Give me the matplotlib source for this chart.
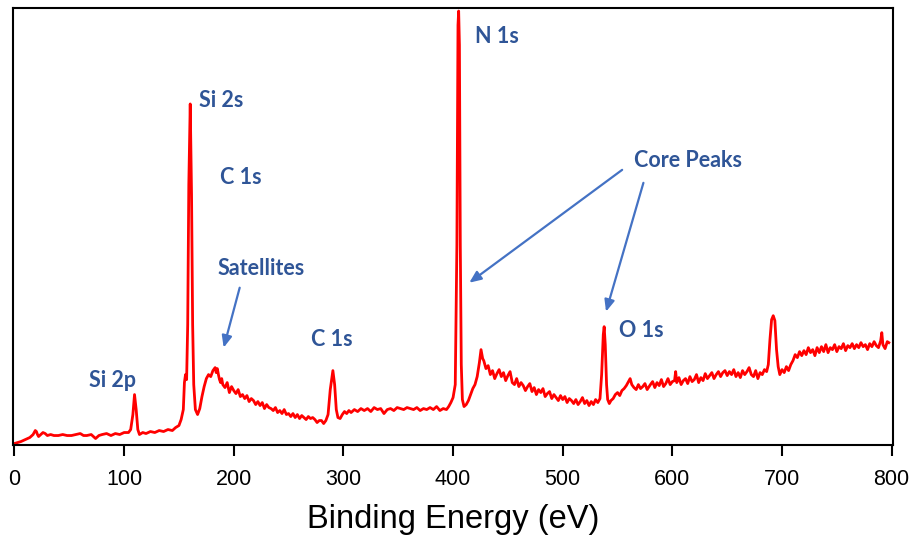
import matplotlib.pyplot as plt

# XPS survey spectrum (arbitrary intensity units)
energy_ev = [
    0, 3, 6, 10, 14, 17, 19, 20, 21, 22, 24, 26, 28, 30, 33, 36, 40, 44, 48, 52,
    56, 60, 63, 66, 70, 74, 77, 80, 84, 88, 92, 96, 100, 104, 106, 108, 109.5, 111, 112.5, 114,
    117, 120, 124, 128, 132, 136, 140, 144, 147, 150, 152, 154, 155, 156, 157, 158, 159, 160.3, 161.5, 162.5,
    163.5, 165, 167, 169, 171, 173, 175, 177, 179, 181, 183, 184, 185, 186, 187, 188, 189, 190, 192, 194,
    195, 196, 198, 200, 202, 204, 206, 208, 210, 212, 214, 216, 218, 220, 222, 224, 226, 228, 230, 232,
    234, 236, 238, 240, 242, 244, 246, 248, 250, 252, 254, 256, 258, 260, 262, 264, 266, 268, 270, 272,
    274, 276, 278, 280, 282, 284, 286, 288, 290.4, 292, 293.5, 295, 297, 299, 301, 303, 305, 307, 310, 313,
    316, 319, 322, 325, 328, 331, 334, 337, 340, 343, 346, 349, 352, 355, 358, 361, 364, 367, 370, 373,
    376, 379, 382, 385, 388, 391, 394, 396, 398, 400, 402, 403.5, 404.5, 405.1, 405.8, 406.6, 407.5, 408.5, 410, 412,
    414, 416, 418, 420, 422, 424, 425.5, 427, 428, 430, 432, 434, 436, 438, 440, 442, 444, 446, 448, 450,
    452, 454, 456, 458, 460, 462, 464, 466, 468, 470, 472, 474, 476, 478, 480, 482, 484, 486, 488, 490,
    492, 494, 496, 498, 500, 502, 504, 506, 508, 510, 512, 514, 516, 518, 520, 522, 524, 526, 528, 530,
    532, 534, 535.5, 537, 537.8, 538.8, 540, 541, 542.5, 544, 546, 548, 550, 552, 554, 556, 558, 560, 561.5, 563,
    565, 567, 569, 571, 573, 575, 577, 580, 582, 584, 586, 588, 590, 592, 594, 596, 598, 600, 602, 603,
    604, 606, 608, 610, 612, 614, 616, 618, 620, 622, 624, 626, 628, 630, 632, 634, 636, 638, 640, 642,
    644, 646, 648, 650, 652, 654, 656, 658, 660, 662, 664, 666, 668, 670, 672, 674, 676, 678, 680, 682,
    684, 686, 687.5, 689, 690.5, 692, 693.5, 695, 696.5, 698, 700, 702, 704, 706, 708, 710, 712, 714, 716, 718,
    720, 722, 724, 726, 728, 730, 732, 734, 736, 738, 740, 742, 744, 746, 748, 750, 752, 754, 756, 758,
    760, 762, 764, 766, 768, 770, 772, 774, 776, 778, 780, 782, 784, 786, 788, 790, 791, 792, 794, 796,
    797.4,
]
intensity = [
    1, 2, 3, 5, 7, 10, 14, 13, 10, 8, 10, 12, 11, 9, 10, 9, 9, 10, 9, 9,
    10, 11, 9, 9, 10, 6, 9, 10, 11, 9, 11, 10, 12, 12, 15, 30, 50, 35, 15, 10,
    12, 11, 13, 12, 14, 13, 15, 14, 17, 19, 25, 35, 62, 70, 65, 120, 260, 341, 250, 120,
    60, 35, 30, 36, 48, 58, 66, 70, 68, 74, 77, 72, 76, 70, 65, 62, 66, 60, 57, 62,
    57, 52, 58, 54, 51, 55, 48, 50, 46, 49, 43, 46, 44, 40, 43, 39, 42, 36, 40, 37,
    36, 34, 37, 32, 34, 31, 35, 30, 31, 28, 31, 27, 30, 26, 29, 27, 25, 28, 26, 27,
    25, 22, 24, 24, 21, 24, 30, 55, 74, 60, 35, 27, 26, 30, 33, 31, 34, 32, 35, 33,
    36, 34, 36, 33, 37, 35, 36, 31, 35, 36, 34, 37, 36, 35, 37, 36, 35, 37, 34, 36,
    35, 37, 35, 38, 34, 36, 35, 38, 42, 47, 60, 200, 420, 434, 400, 200, 80, 45, 38, 40,
    44, 50, 56, 60, 68, 82, 95, 86, 84, 76, 79, 70, 74, 66, 71, 75, 68, 72, 64, 69,
    73, 62, 60, 66, 58, 62, 59, 54, 58, 61, 53, 57, 50, 55, 52, 56, 48, 51, 53, 46,
    50, 47, 44, 49, 45, 48, 42, 46, 44, 41, 45, 40, 43, 47, 41, 44, 39, 43, 40, 45,
    42, 46, 70, 110, 118, 100, 60, 45, 41, 44, 46, 50, 52, 49, 54, 56, 59, 63, 66, 60,
    57, 55, 60, 56, 58, 61, 55, 60, 63, 57, 62, 59, 65, 58, 61, 66, 60, 63, 64, 73,
    62, 67, 60, 64, 66, 61, 68, 63, 65, 70, 62, 67, 64, 71, 66, 69, 72, 66, 70, 73,
    68, 72, 74, 69, 73, 70, 75, 68, 72, 67, 74, 70, 73, 77, 70, 68, 74, 66, 72, 70,
    75, 73, 80, 105, 125, 129, 124, 95, 78, 70, 75, 72, 78, 74, 80, 84, 90, 87, 93, 89,
    94, 90, 97, 92, 95, 89, 97, 92, 98, 93, 100, 92, 97, 95, 100, 93, 98, 96, 101, 94,
    99, 97, 101, 96, 100, 97, 102, 98, 100, 95, 101, 98, 103, 99, 97, 104, 112, 100, 96, 103,
    102,
]

x_ticks = [0, 100, 200, 300, 400, 500, 600, 700, 800]

# peak labels: (text, left edge in eV, baseline in intensity units)
labels = [
    ("Si 2s", 168.0, 338),
    ("C 1s", 187.2, 261),
    ("N 1s", 420.3, 402),
    ("Core Peaks", 565.1, 278),
    ("Satellites", 185.3, 170),
    ("C 1s", 270.0, 99),
    ("Si 2p", 67.9, 58),
    ("O 1s", 551.5, 108),
]

# arrows: (tail eV, tail intensity, head eV, head intensity)
arrows = [
    (205.4, 157, 190.8, 97),
    (554.2, 275, 414.8, 162),
    (573.6, 262, 539.5, 133),
]

LABEL_BLUE = "#2f5597"
ARROW_BLUE = "#4472c4"

fig = plt.figure(figsize=(9.14, 5.37), dpi=100)
ax = fig.add_axes([0.0139, 0.1713, 0.9631, 0.8137])

ax.plot(energy_ev, intensity, color="#ff0000", lw=2.0)

for text, x, y in labels:
    ax.text(x, y, text, color=LABEL_BLUE, fontsize=15.5, fontweight="bold",
            family="Lato", ha="left", va="baseline")

for x0, y0, x1, y1 in arrows:
    ax.annotate("", xy=(x1, y1), xytext=(x0, y0),
                arrowprops=dict(arrowstyle="-|>,head_length=0.7,head_width=0.3",
                                color=ARROW_BLUE, lw=1.6, shrinkA=0, shrinkB=0))

ax.set_xlim(-1.6, 801.2)
ax.set_ylim(-0.5, 437)
ax.set_yticks([])
ax.set_xticks(x_ticks)
ax.set_xticklabels([str(t) for t in x_ticks], family="Liberation Sans", fontsize=15.5)
ax.tick_params(axis="x", direction="out", length=8, width=1.5, pad=9)
for spine in ax.spines.values():
    spine.set_linewidth(1.5)

ax.set_xlabel("Binding Energy (eV)", family="Liberation Sans", fontsize=23.5, labelpad=10)

fig.savefig("out.png", dpi=100)
